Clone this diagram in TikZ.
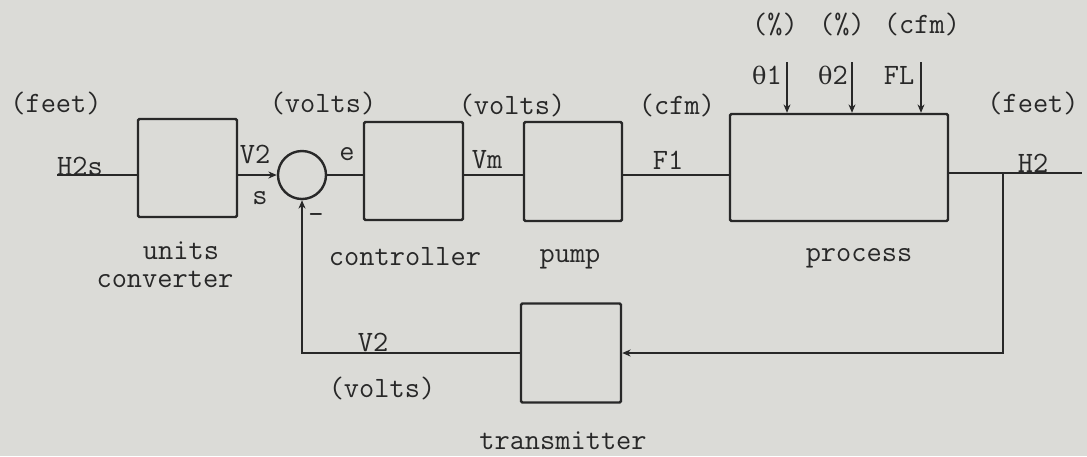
\documentclass[tikz,border=0pt]{standalone}
\usepackage{fontspec}
\newfontfamily\grk{DejaVu Serif}
\usetikzlibrary{arrows.meta}
\definecolor{paper}{RGB}{219,219,215}
\definecolor{ink}{RGB}{40,40,40}
\tikzset{blk/.style={draw=ink,line width=1.7pt,rounded corners=1pt,inner sep=0pt},
  lbl/.style={text=ink,inner sep=0pt,font=\fontsize{21}{23}\selectfont\ttfamily}}
\newcommand{\thta}{{\grk\fontsize{17}{20}\selectfont θ}}
\begin{document}
\begin{tikzpicture}[x=0.025cm,y=-0.025cm,line width=1.7pt,draw=ink,>={Stealth[length=6pt,width=5pt]}]
\fill[paper] (0,0) rectangle (1087,456);
\useasboundingbox (0,0) rectangle (1087,456);
% blocks
\node[blk,minimum width=2.475cm,minimum height=2.45cm] (conv) at (187.5,168) {};
\node[draw=ink,line width=1.7pt,circle,minimum size=1.2cm,inner sep=0pt] (sum) at (302,175) {};
\node[blk,minimum width=2.475cm,minimum height=2.45cm] (ctrl) at (413.5,171) {};
\node[blk,minimum width=2.45cm,minimum height=2.475cm] (pump) at (573,171.5) {};
\node[blk,minimum width=5.45cm,minimum height=2.675cm] (proc) at (839,167.5) {};
\node[blk,minimum width=2.5cm,minimum height=2.475cm] (trans) at (571,353) {};
\coordinate (in) at (57,175);
\coordinate (out) at (1082,173);
\coordinate (br) at (1003,173);
\coordinate (d1) at (787,62);
\coordinate (d2) at (852,62);
\coordinate (d3) at (921,62);
% main path
\draw (in) -- (in -| conv.west);
\draw[->] (conv.east |- sum) -- (sum.west);
\draw (sum.east) -- (sum -| ctrl.west);
\draw (ctrl.east |- sum) -- (sum -| pump.west);
\draw (pump.east |- sum) -- (sum -| proc.west);
\draw (proc.east |- out) -- (out);
\draw[->] (br) |- (trans.east);
\draw[->] (trans.west) -| (sum.south);
\foreach \d in {d1,d2,d3}{\draw[->,line width=.8pt] (\d) -- (\d |- proc.north);}
% labels
\node[lbl] (ftin) at (56,103) {(feet)};
\node[lbl] (h2s) at (80,166) {H2s};
\node[lbl] (v2a) at (255,154) {V2};
\node[lbl] (sgn) at (260,198) {s};
\node[lbl] (vlta) at (323,103) {(volts)};
\node[lbl] (err) at (347,154) {e};
\node[lbl] (neg) at (316,219) {-};
\node[lbl] (unt) at (181,251) {units};
\node[lbl] (cnv) at (165,279) {converter};
\node[lbl] (ctl) at (405,257) {controller};
\node[lbl] (vm) at (487,160) {Vm};
\node[lbl] (vltb) at (512,105) {(volts)};
\node[lbl] (pmp) at (570,259) {pump};
\node[lbl] (f1) at (668,160) {F1};
\node[lbl] (cfma) at (677,105) {(cfm)};
\node[lbl] (prc) at (859,258) {process};
\node[lbl] (pc1) at (775,24) {(\%)};
\node[lbl] (pc2) at (842,24) {(\%)};
\node[lbl] (cfmb) at (922,24) {(cfm)};
\node[lbl] (th1) at (767,75) {\thta1};
\node[lbl] (th2) at (833,75) {\thta2};
\node[lbl] (fl) at (899,75) {FL};
\node[lbl] (ftout) at (1033,103) {(feet)};
\node[lbl] (h2) at (1033,163) {H2};
\node[lbl] (v2b) at (373,342) {V2};
\node[lbl] (vltc) at (382,388) {(volts)};
\node[lbl] (trm) at (563,441) {transmitter};
\end{tikzpicture}
\end{document}
